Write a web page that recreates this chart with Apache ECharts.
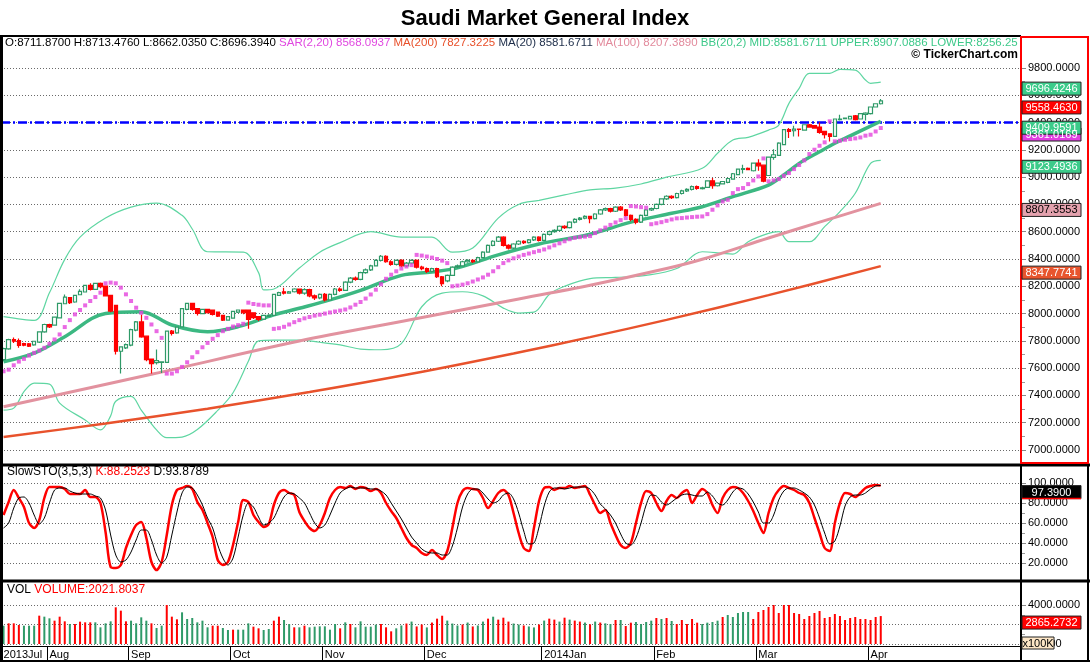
<!DOCTYPE html>
<html><head><meta charset="utf-8">
<script src="https://cdn.jsdelivr.net/npm/echarts@6/dist/echarts.min.js"></script>
<style>html,body{margin:0;padding:0;background:#fff}#c{width:1090px;height:662px}</style>
</head><body><div id="c"></div>
<script>
// ---------- DATA ----------
const monthLabels = ['2013Jul','Aug','Sep','Oct','Nov','Dec','2014Jan','Feb','Mar','Apr'];
const monthBars = [9,16,20,18,20,23,22,20,22,3];
const totalSlots = 200;

// [open, close, low, high]
const candles = [
[7662,7743,7650,7750],[7741,7809,7735,7815],[7810,7797,7785,7825],[7802,7766,7750,7818],[7780,7768,7760,7786],
[7778,7761,7755,7785],[7770,7797,7765,7800],[7790,7866,7785,7870],[7866,7920,7860,7925],[7920,7903,7895,7925],
[7915,7974,7910,7978],[7969,8075,7965,8080],[8072,8121,8068,8140],[8117,8080,8070,8122],[8085,8133,8080,8137],
[8138,8163,8135,8178],[8158,8207,8155,8210],[8207,8178,8170,8222],[8178,8222,8175,8226],[8222,8197,8185,8228],
[8202,8129,8125,8205],[8134,8018,8010,8138],[8060,7724,7700,8062],[7724,7756,7560,7760],[7748,7773,7740,7780],
[7768,7883,7760,7888],[7878,7939,7870,7945],[7939,7829,7822,7994],[7834,7662,7650,7838],[7667,7633,7560,7670],
[7640,7655,7626,7736],[7643,7646,7564,7650],[7643,7871,7640,7875],[7871,7855,7840,7880],[7859,7900,7852,7905],
[7903,8036,7898,8040],[8031,8075,8025,8080],[8075,8031,8020,8080],[8036,8001,7985,8040],[7999,8031,7995,8035],
[8031,8006,8000,8035],[8026,7994,7985,8030],[8011,7982,7975,8015],[7987,7952,7945,7990],[7952,7977,7948,7980],
[7967,8016,7962,8020],[8011,8026,8005,8030],[8026,8006,7995,8030],[8026,7957,7889,8030],[8006,7970,7960,8010],
[7977,7957,7945,7980],[7960,7987,7955,7990],[7980,7987,7975,7995],[7987,8141,7982,8145],[8134,8153,8130,8160],
[8160,8150,8140,8190],[8150,8160,8145,8165],[8160,8180,8155,8185],[8180,8150,8140,8182],[8150,8175,8138,8185],
[8175,8130,8120,8182],[8130,8115,8100,8140],[8115,8140,8105,8148],[8140,8100,8088,8150],[8100,8140,8095,8148],
[8140,8180,8135,8188],[8180,8170,8160,8192],[8170,8230,8165,8236],[8230,8260,8222,8268],[8260,8250,8240,8272],
[8250,8300,8245,8306],[8300,8320,8292,8330],[8320,8350,8312,8358],[8350,8390,8345,8398],[8390,8420,8382,8430],
[8420,8380,8372,8428],[8380,8360,8350,8390],[8360,8390,8352,8396],[8390,8350,8340,8398],[8350,8370,8342,8378],
[8370,8390,8362,8398],[8390,8340,8330,8396],[8340,8330,8318,8350],[8330,8310,8298,8338],[8310,8330,8302,8336],
[8330,8270,8260,8335],[8270,8220,8200,8276],[8240,8280,8230,8286],[8280,8340,8275,8346],[8340,8350,8332,8360],
[8350,8380,8345,8388],[8380,8390,8372,8398],[8390,8380,8370,8396],[8380,8410,8375,8416],[8410,8450,8405,8456],
[8450,8500,8445,8506],[8500,8530,8494,8538],[8530,8560,8524,8568],[8560,8500,8492,8566],[8500,8480,8470,8508],
[8480,8510,8474,8516],[8510,8530,8502,8538],[8530,8520,8510,8538],[8520,8540,8514,8546],[8540,8560,8532,8566],
[8560,8536,8528,8566],[8536,8580,8530,8586],[8580,8600,8572,8608],[8600,8610,8592,8618],[8610,8640,8604,8646],
[8640,8630,8620,8648],[8630,8670,8624,8676],[8670,8690,8662,8698],[8690,8700,8682,8708],[8700,8712,8692,8720],
[8711.87,8696.394,8662.035,8713.476],[8696,8730,8690,8736],[8730,8760,8724,8766],[8760,8770,8752,8778],[8770,8750,8740,8776],
[8750,8780,8744,8786],[8780,8760,8752,8788],[8760,8720,8710,8766],[8720,8690,8676,8726],[8690,8670,8655,8698],
[8670,8720,8664,8726],[8720,8760,8714,8766],[8760,8770,8752,8778],[8770,8800,8764,8806],[8800,8840,8794,8846],
[8840,8860,8832,8868],[8860,8850,8840,8868],[8850,8880,8844,8886],[8880,8900,8872,8908],[8900,8910,8892,8918],
[8910,8930,8902,8938],[8930,8918,8908,8938],[8915,8922,8910,8930],[8925,8973,8920,8978],[8973,8937,8915,8993],
[8937,8956,8932,8960],[8951,8968,8946,8972],[8961,8990,8956,8995],[8986,9025,8982,9030],[9018,9059,9014,9064],
[9057,9063,9026,9090],[9065,9055,9050,9070],[9047,9103,9042,9108],[9103,9083,9047,9132],[9088,8970,8962,9092],
[9012,9147,9008,9152],[9145,9164,9127,9205],[9160,9250,9156,9255],[9238,9348,9234,9352],[9348,9335,9286,9360],
[9340,9352,9298,9376],[9352,9350,9298,9354],[9345,9384,9340,9388],[9384,9367,9362,9390],[9377,9360,9355,9382],
[9367,9328,9318,9402],[9335,9311,9284,9340],[9318,9299,9262,9322],[9299,9426,9295,9430],[9421,9426,9416,9458],
[9428,9433,9424,9438],[9426,9445,9422,9450],[9450,9421,9416,9455],[9426,9465,9422,9470],[9460,9470,9416,9475],
[9465,9514,9460,9518],[9514,9538,9510,9542],[9538,9558.463,9532,9573]
];

const volumes = [
1880,2120,2120,1949,1880,1880,1880,2906,2804,2633, 2393,2804,2325,2051,2051,2291,2222,2222,2222,1710,
2120,2325,3761,3419,2325,2393,2120,2735,2393,2120, 1641,1880,4171,2804,2530,3248,2564,2667,2222,2393,
1710,1880,1880,1641,1436,1470,1470,1470,2120,1778, 1607,1436,1539,2393,2804,2462,2051,1710,1710,1880,
1710,1778,1812,1812,1470,2051,1607,2222,2051,1710, 2325,1778,1778,1983,2051,1710,1299,1607,
1900,2100,2300,1800,2000,1700,2200,2600,2900,2400, 2100,1900,2000,2200,1800,1900,2300,2600,2800,2500,
2700,2300,2100,2000,1900,1800,1700,2000,2400,2600, 2500,2300,2700,2500,2400,2300,2200,2021.8,2300,2200,
2120,2051,2462,2462,1846,2188,2256,2051,2256,2393, 2667,2564,2667,2359,2051,2462,2051,2564,2188,2051,
2188,2256,2393,2769,2975,2769,3180,3282,3282,2564, 3282,3487,3795,4411,3180,4718,4616,3180,3077,2564,
2872,3180,3385,2667,2769,3077,2872,2462,2667,2769, 2564,2564,2462,2769,2865.2732
];
// 1 = green volume bar, 0 = red volume bar
const volUp = [
1,0,0,0,1,1,1,0,1,1, 0,0,0,1,0,0,0,0,1,1, 1,1,0,0,0,1,1,1,1,0, 1,1,0,0,0,1,1,1,1,1,
1,0,0,1,1,0,1,1,1,0, 0,1,1,0,0,1,1,0,1,0, 1,1,1,1,1,1,0,1,0,1, 1,1,1,1,0,0,0,1,
1,0,1,0,0,1,0,0,0,1, 1,1,0,1,0,1,1,0,1,0, 0,0,1,1,0,1,1,0,1,0, 0,1,0,1,0,0,1,0,1,0,
1,1,0,1,0,0,1,1,1,1, 0,1,0,1,0,0,0,0,0,1, 1,1,1,0,1,1,1,1,1,0, 0,0,0,0,0,0,0,0,0,0,
0,0,0,0,0,0,0,0,0,0, 0,0,0,0,0
];

const stochK = [
68,81,93,85,76,60,55,63,85,96, 96,96,94,89,89,89,93,86,86,80, 51,16,15,18,35,48,58,61,45,21,
13,21,48,78,93,95,97,94,81,73, 60,46,23,18,21,38,61,83,81,68, 61,56,59,78,90,93,90,88,71,62,
55,52,58,70,85,93,96,95,97,94, 96,95,92,94,90,80,72,65,55,45, 38,35,30,28,33,28,24,32,55,80,
92,95,94,93,85,75,82,90,93,88, 70,50,35,32,55,82,95,96,93,95, 95,97,95,96,97,88.2523,78,70,73,60,
48,38,35,40,60,80,92,90,80,72, 82,88,85,90,93,80,88,94,90,78, 70,85,93,96,95,90,82,72,60,50,
70,85,93,97,95,93,90,88,80,65, 50,35,32,60,80,90,89,86,90,95, 97,98,97.39
];
const stochD = [
55,60,75,85,86,80,68,59,65,80, 93,95,95,92,90,89,89,89,87,85, 73,48,28,21,23,31,43,53,53,43,
28,20,26,48,71,90,96,95,88,78, 65,55,38,25,18,25,46,68,80,76, 66,58,60,65,76,86,90,89,85,80,
70,60,55,58,68,80,90,94,96,95, 95,95,94,94,92,88,80,72,64,55, 46,40,34,31,30,30,28,28,37,55,
76,89,94,94,90,84,80,82,88,90, 84,70,52,39,40,56,77,91,95,95, 94,95,96,96,96,93.8789,88,79,74,68,
60,49,40,38,45,60,78,88,87,81, 78,81,85,88,89,88,87,87,91,87, 80,78,83,91,95,94,89,81,71,60,
60,68,83,92,95,95,93,90,86,78, 65,50,39,42,57,77,86,88,88,90, 94,97,97.5
];

const sar = [
7577,7589,7621,7648,7668,7692,7712,7729,7749,7778, 7810,7847,7901,7952,7994,8026,8060,8092,8121,8153,
8222,8227,8222,8190,8141,8092,8043,8006,7969,7920, 7871,7822,7560,7560,7577,7609,7643,7680,7717,7753,
7785,7815,7842,7871,7888,7905,7915,7925,8080,8070, 8065,8060,8060,7888,7893,7903,7920,7937,7952,7965,
7975,7985,7992,8000,8008,8015,8022,8030,8045,8065, 8085,8110,8140,8175,8215,8255,8285,8310,8330,8345,
8355,8430,8425,8418,8410,8400,8388,8370,8200,8205, 8212,8222,8235,8250,8265,8285,8310,8340,8370,8390,
8405,8418,8430,8440,8450,8460,8470,8485,8500,8515, 8530,8545,8555,8560,8564,8568.0937,8590,8610,8630,8650,
8668,8685,8700,8788,8785,8780,8776,8655,8662,8670, 8680,8690,8698,8700,8704,8707,8710,8712,8729,8761,
8793,8822,8834,8883,8912,8920,8949,8976,9005,9137, 8969,8976,8986,9010,9030,9059,9089,9123,9169,9201,
9230,9255,9409,9262,9267,9274,9279,9284,9291,9304, 9311,9335,9360
];

// [bar index, value]
const ma20 = [[0,7647],[6,7710],[12,7830],[20,8001],[27,8014],[33,7916],[40,7867],[46,7904],[53,7990],[58,8039],[64,8100],[70,8170],[78,8280],[84,8305],[89,8335],[97,8430],[105,8510],[115,8581.6711],[123,8670],[131,8735],[137,8783],[143,8857],[150,8942],[153,9016],[156,9101],[160,9186],[163,9248],[166,9302],[172,9409.9591]];
const ma100 = [[0,7317],[29,7555],[58,7799],[80,7956],[100,8100],[115,8207.389],[130,8330],[137,8398],[150,8554],[160,8670],[172,8807.3553]];
const ma200 = [[0,7096],[20,7194],[40,7303],[60,7425],[80,7559],[100,7708],[115,7827.3225],[130,7954],[150,8135],[172,8347.7741]];
const bbUpper = [[0,7977],[6,7950],[9,8152],[12,8397],[15,8560],[20,8700],[25,8780],[30,8810],[35,8720],[37,8620],[40,8453],[47,8450],[50,8300],[51,8173],[53,8180],[58,8334],[62,8450],[66,8520],[72,8600],[78,8560],[84,8560],[88,8450],[92,8480],[97,8700],[101,8800],[105,8830],[110,8870],[115,8907.0886],[120,8920],[125,8950],[130,9000],[137,9065],[140,9175],[143,9272],[146,9292],[150,9345],[152,9382],[154,9541],[156,9651],[158,9761],[162,9761],[164,9790],[167,9785],[169,9712],[170,9688],[172,9696.4246]];
const bbLower = [[0,7293],[2,7307],[4,7427],[6,7490],[9,7483],[11,7344],[16,7220],[19,7147],[21,7250],[22,7357],[25,7393],[27,7293],[30,7147],[32,7090],[35,7095],[38,7150],[42,7290],[45,7420],[48,7650],[50,7800],[53,7806],[58,7806],[62,7790],[66,7770],[70,7740],[74,7735],[78,7780],[82,8050],[86,8150],[90,8160],[94,8130],[98,8040],[101,8004],[104,8010],[107,8140],[110,8200],[115,8256.2],[120,8265],[126,8280],[132,8330],[137,8453],[141,8441],[143,8436],[146,8527],[150,8588],[152,8600],[154,8527],[158,8527],[161,8637],[164,8747],[167,8882],[170,9101],[172,9123.4936]];

const hLineLevel = 9400;
const priceAxis = {min: 7000, max: 9800, step: 200};
const stochAxis = {min: 20, max: 100, step: 20};
const volAxis = {min: 0, max: 4000, step: 2000};

const headerParts = [
  ['k', 'O:8711.8700 H:8713.4760 L:8662.0350 C:8696.3940 '],
  ['sar', 'SAR(2,20) 8568.0937 '],
  ['m200', 'MA(200) 7827.3225 '],
  ['m20', 'MA(20) 8581.6711 '],
  ['m100', 'MA(100) 8207.3890 '],
  ['bb', 'BB(20,2) MID:8581.6711 UPPER:8907.0886 LOWER:8256.2536']
];
const stochHeader = [['k','SlowSTO(3,5,3) '],['r','K:88.2523 '],['k','D:93.8789']];
const volHeader = [['k','VOL '],['r','VOLUME:2021.8037']];

// ---------- BUILD ----------
const cats = [], startLabel = {};
let idx = 0;
monthBars.forEach((n, m) => { startLabel[idx] = monthLabels[m]; idx += n; });
for (let i = 0; i < totalSlots; i++) cats.push('d' + i);
const isStart = i => startLabel[i] !== undefined;

const FONT = 'Liberation Sans, Arial, sans-serif';
const GREEN = '#2f9a68', RED = '#ff0000';
const gridDot = {type: [1, 2], color: '#6a6a6a', width: 1};

function xAx(g, show) {
  return {
    type: 'category', gridIndex: g, data: cats, boundaryGap: true,
    axisLine: {show: show, onZero: false, lineStyle: {color: '#000', width: 1}},
    offset: show ? 2 : 0,
    axisTick: {show: show, interval: (i) => isStart(i), length: 14, lineStyle: {color: '#000', width: 1}},
    axisLabel: {show: show, interval: (i) => isStart(i), formatter: (v, i) => startLabel[i] || '',
      align: 'left', margin: 3, color: '#000', fontSize: 11, fontFamily: FONT},
    splitLine: {show: false}
  };
}
function yAx(g, ax) {
  return {
    type: 'value', gridIndex: g, position: 'right', min: ax.min, max: ax.max, interval: ax.step,
    axisLine: {show: false},
    axisTick: {show: true, length: 5, lineStyle: {color: '#888'}},
    minorTick: {show: true, splitNumber: 2, length: 4, lineStyle: {color: '#999'}},
    splitLine: {show: true, lineStyle: gridDot},
    axisLabel: {formatter: v => v.toFixed(4), color: '#000', fontSize: 11, fontFamily: FONT, margin: 7}
  };
}

const lineS = (name, data, color, width, extra) => Object.assign({
  name, type: 'line', xAxisIndex: 0, yAxisIndex: 0, data, smooth: 0.35, showSymbol: false,
  clip: false, silent: true, lineStyle: {color, width}, z: 2
}, extra || {});

const option = {
  animation: false,
  backgroundColor: '#fff',
  textStyle: {fontFamily: FONT},
  title: {text: 'Saudi Market General Index', left: 'center', top: 3,
    textStyle: {fontSize: 22, fontWeight: 'bold', color: '#000', fontFamily: FONT}},
  grid: [
    {left: 1, width: 1020, top: 68, height: 382},
    {left: 1, width: 1020, top: 483, height: 80},
    {left: 1, width: 1020, top: 605, height: 39}
  ],
  xAxis: [xAx(0, false), xAx(1, false), xAx(2, true)],
  yAxis: [yAx(0, priceAxis), yAx(1, stochAxis), yAx(2, volAxis)],
  series: [
    lineS('BB upper', bbUpper, '#5fd6a2', 1.2),
    lineS('BB lower', bbLower, '#5fd6a2', 1.2),
    lineS('MA200', ma200, '#e8522c', 2.5),
    lineS('MA100', ma100, '#e2929f', 3),
    lineS('MA20', ma20, '#3cb882', 3.5),
    {
      name: 'Price', type: 'candlestick', xAxisIndex: 0, yAxisIndex: 0, data: candles,
      barWidth: 4, clip: false, silent: true, z: 3,
      itemStyle: {color: '#fff', color0: RED, borderColor: GREEN, borderColor0: RED, borderWidth: 1.2},
      markLine: {silent: true, symbol: ['none', 'none'], label: {show: false}, z: 1,
        lineStyle: {color: '#0000ff', width: 2.5, type: [9, 3, 2, 3]}, data: [{yAxis: hLineLevel}]}
    },
    {name: 'SAR', type: 'scatter', xAxisIndex: 0, yAxisIndex: 0, data: sar, symbol: 'rect',
      symbolSize: 4, itemStyle: {color: '#e444dc'}, silent: true, clip: false, z: 4},
    {name: 'K', type: 'line', xAxisIndex: 1, yAxisIndex: 1, data: stochK, showSymbol: false,
      smooth: 0.3, clip: false, silent: true, lineStyle: {color: RED, width: 2.5}, z: 2},
    {name: 'D', type: 'line', xAxisIndex: 1, yAxisIndex: 1, data: stochD, showSymbol: false,
      smooth: 0.3, clip: false, silent: true, lineStyle: {color: '#000', width: 1}, z: 3},
    {name: 'Volume', type: 'bar', xAxisIndex: 2, yAxisIndex: 2, barWidth: 2, silent: true,
      data: volumes.map((v, i) => ({value: v, itemStyle: {color: volUp[i] ? GREEN : RED}}))}
  ]
};

const chart = echarts.init(document.getElementById('c'), null, {renderer: 'canvas'});
chart.setOption(option);

// ---------- decorations (frame, headers, value boxes) ----------
const py = (a, v) => chart.convertToPixel({yAxisIndex: a}, v);
const last = a => a[a.length - 1];
const G = [];
const line = (x1, y1, x2, y2, c, w) => G.push({type: 'line', shape: {x1, y1, x2, y2}, style: {stroke: c, lineWidth: w}, z: 50, silent: true});

function richText(x, y, parts, rich, extra) {
  G.push({type: 'text', x, y, z: 40, silent: true,
    style: Object.assign({text: parts.map(p => '{' + p[0] + '|' + p[1] + '}').join(''), rich,
      verticalAlign: 'middle', fontFamily: FONT}, extra || {})});
}
const rs = (c, fs) => ({fill: c, fontSize: fs || 12, fontFamily: FONT});
const HF = 11.5;
richText(5, 43, headerParts, {k: rs('#000', HF), sar: rs('#e048e0', HF), m200: rs('#e8502a', HF),
  m20: rs('#1c2c48', HF), m100: rs('#e28a9c', HF), bb: rs('#3ec98a', HF)},
  {width: 1015, overflow: 'truncate', ellipsis: ''});
G.push({type: 'text', x: 1018, y: 55, z: 40, silent: true,
  style: {text: '© TickerChart.com', fill: '#000', font: 'bold 12px ' + FONT, align: 'right', verticalAlign: 'middle'}});
richText(7, 472, stochHeader, {k: rs('#000'), r: rs(RED)});
richText(7, 590, volHeader, {k: rs('#000'), r: rs(RED)});

// frame
line(0, 36, 1021, 36, '#000', 2);
G.push({type: 'rect', shape: {x: 0, y: 36, width: 3, height: 626}, style: {fill: '#000'}, z: 50, silent: true});
line(0, 465, 1090, 465, '#000', 3);
line(0, 581, 1090, 581, '#000', 3);
line(0, 661, 1090, 661, '#000', 2);
line(1021, 466, 1021, 662, '#000', 2);
line(1088, 466, 1088, 662, '#000', 2);
G.push({type: 'rect', shape: {x: 1021, y: 37, width: 67, height: 426}, style: {fill: null, stroke: '#ff0000', lineWidth: 2}, z: 51, silent: true});

// value boxes on the right axis (top edge at the value)
function box(axis, v, txt, bg, fg, under) {
  const y = py(axis, v);
  G.push({type: 'rect', shape: {x: 1022, y: y, width: 59, height: 13},
    style: {fill: bg, stroke: '#222', lineWidth: 1}, z: 60, silent: true});
  G.push({type: 'text', x: 1051.5, y: y + 7, z: 61, silent: true,
    style: {text: txt, fill: fg, font: '11px ' + FONT, align: 'center', verticalAlign: 'middle'}});
  if (under) G.push({type: 'line', shape: {x1: 1022, y1: y + 13, x2: 1081, y2: y + 13}, style: {stroke: under, lineWidth: 1.5}, z: 62, silent: true});
}
const lastClose = last(candles)[1];
box(0, last(bbUpper)[1], last(bbUpper)[1].toFixed(4), '#3ccb8a', '#fff');
box(0, lastClose, lastClose.toFixed(4), '#ff0000', '#fff');
box(0, last(sar), '9361.0169', '#e040e0', '#fff');
box(0, last(ma20)[1], last(ma20)[1].toFixed(4), '#3ccb8a', '#fff');
box(0, last(bbLower)[1], last(bbLower)[1].toFixed(4), '#3ccb8a', '#fff');
box(0, last(ma100)[1], last(ma100)[1].toFixed(4), '#e4a2ae', '#000');
box(0, last(ma200)[1], last(ma200)[1].toFixed(4), '#e8552e', '#fff');
box(1, last(stochK), last(stochK).toFixed(4), '#000', '#fff', '#ff0000');
box(2, last(volumes), last(volumes).toFixed(4), '#ff0000', '#fff');
// x100K unit tag
G.push({type: 'rect', shape: {x: 1022, y: 637, width: 32, height: 12}, style: {fill: '#fde6c6', stroke: '#222', lineWidth: 1}, z: 60, silent: true});
G.push({type: 'text', x: 1038, y: 643.5, z: 61, silent: true, style: {text: 'x100K', fill: '#000', font: '11px ' + FONT, align: 'center', verticalAlign: 'middle'}});

chart.setOption({graphic: G});
</script>
</body></html>
